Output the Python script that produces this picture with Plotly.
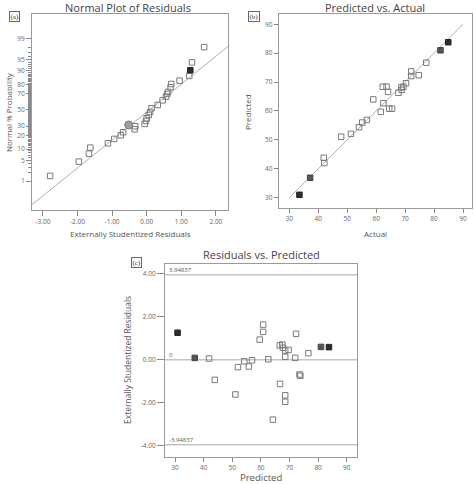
import plotly.graph_objects as go
from statistics import NormalDist

W, H = 474, 484
_nd = NormalDist()


def zq(pcts):
    """Normal-probability axis scale: percent -> standard normal quantile."""
    return [_nd.inv_cdf(p / 100.0) for p in pcts]


# ---------------- (a) Normal plot of residuals ----------------
a_resid = [-2.79, -1.96, -1.67, -1.63, -1.12, -0.94, -0.75, -0.68, -0.35, -0.33,
           -0.06, -0.02, 0.00, 0.06, 0.10, 0.14, 0.32, 0.46, 0.56, 0.59,
           0.62, 0.69, 0.71, 0.95, 1.23, 1.31, 1.66]
a_prob = [1.55, 4.55, 7.66, 10.9, 13.8, 17.2, 20.4, 23.3, 26.4, 29.7,
          32.4, 36.0, 39.3, 43.5, 47.4, 52.2, 56.5, 62.4, 66.8, 69.9,
          72.2, 77.1, 80.2, 83.1, 86.7, 94.0, 98.0]
a_dark_resid = [1.26]
a_dark_prob = [90.3]
a_circle_resid = [-0.52]
a_circle_prob = [31.2]
a_line_resid = [-3.32, 2.35]
a_line_prob = [0.097, 98.1]
a_xticks = [-3, -2, -1, 0, 1, 2]
a_xticklabels = ["-3.00", "-2.00", "-1.00", "0.00", "1.00", "2.00"]
a_yticks_pct = [1, 5, 10, 20, 30, 50, 70, 80, 90, 95, 99]
a_minor_pct = [p for p in range(1, 100)]

# ---------------- (b) Predicted vs. Actual ----------------
b_actual = [77.3, 74.7, 72.1, 72.1, 70.3, 69.4, 68.7, 68.8, 67.7, 62.3, 63.6, 64.1,
            59.0, 62.5, 64.5, 65.5, 61.6, 56.8, 55.2, 54.1, 51.3, 47.9, 41.9, 42.1]
b_pred = [76.7, 72.4, 73.7, 72.1, 69.6, 68.4, 68.2, 67.3, 66.3, 68.4, 68.4, 66.6,
          64.0, 62.7, 60.8, 60.8, 59.7, 56.9, 56.0, 54.4, 52.1, 51.1, 43.8, 42.0]
b_dark_actual = [84.9, 33.5]
b_dark_pred = [83.8, 31.0]
b_mid_actual = [82.2, 37.2]
b_mid_pred = [81.0, 36.9]
b_line = [30, 90]
b_ticks = [30, 40, 50, 60, 70, 80, 90]

# ---------------- (c) Residuals vs. Predicted ----------------
c_pred = [41.9, 43.9, 51.1, 52.0, 54.2, 55.8, 56.9, 59.6, 60.8, 60.8, 62.6, 64.2, 66.7,
          66.6, 67.5, 67.7, 68.5, 69.7, 68.5, 68.5, 68.5, 72.0, 72.3, 73.5, 73.8, 76.6]
c_resid = [0.06, -0.93, -1.61, -0.34, -0.07, -0.31, -0.02, 0.94, 1.30, 1.64, 0.03, -2.78, -1.12,
           0.67, 0.71, 0.56, 0.43, 0.46, 0.14, -1.65, -1.95, 0.09, 1.21, -0.68, -0.74, 0.31]
c_dark_pred = [30.9, 83.8]
c_dark_resid = [1.26, 0.59]
c_mid_pred = [36.9, 81.0]
c_mid_resid = [0.09, 0.60]
c_limit = 3.94837
c_xticks = [30, 40, 50, 60, 70, 80, 90]
c_yticks = [-4, -2, 0, 2, 4]
c_yticklabels = ["-4.00", "-2.00", "0.00", "2.00", "4.00"]

# ---------------- styling ----------------
FONT = "Open Sans"
TXT = "#555555"
FRAME = "#9a9a9a"
OPEN = dict(symbol="square-open", size=5.5, color="#7a7a7a", line=dict(width=1, color="#7a7a7a"))
DARK = dict(symbol="square", size=5.5, color="#2e2e2e", line=dict(width=1, color="#222222"))
MID = dict(symbol="square", size=5.5, color="#555555", line=dict(width=1, color="#444444"))
LINE = dict(color="#b0b0b0", width=1)


def px(x):
    return x / W


def py(y):
    return 1 - y / H


fig = go.Figure()

# (a)
fig.add_trace(go.Scatter(x=a_line_resid, y=zq(a_line_prob), mode="lines", line=LINE,
                         xaxis="x", yaxis="y", hoverinfo="skip"))
fig.add_trace(go.Scatter(x=a_resid, y=zq(a_prob), mode="markers", marker=OPEN, xaxis="x", yaxis="y"))
fig.add_trace(go.Scatter(x=a_dark_resid, y=zq(a_dark_prob), mode="markers", marker=DARK, xaxis="x", yaxis="y"))
fig.add_trace(go.Scatter(x=a_circle_resid, y=zq(a_circle_prob), mode="markers",
                         marker=dict(symbol="circle", size=8, color="#a0a0a0",
                                     line=dict(width=1, color="#7a7a7a")),
                         xaxis="x", yaxis="y"))

# (b)
fig.add_trace(go.Scatter(x=b_line, y=b_line, mode="lines", line=LINE, xaxis="x2", yaxis="y2"))
fig.add_trace(go.Scatter(x=b_actual, y=b_pred, mode="markers", marker=OPEN, xaxis="x2", yaxis="y2"))
fig.add_trace(go.Scatter(x=b_mid_actual, y=b_mid_pred, mode="markers", marker=MID, xaxis="x2", yaxis="y2"))
fig.add_trace(go.Scatter(x=b_dark_actual, y=b_dark_pred, mode="markers", marker=DARK, xaxis="x2", yaxis="y2"))

# (c)
c_range_x = [26.5, 93.7]
for yv in [c_limit, 0, -c_limit]:
    fig.add_trace(go.Scatter(x=c_range_x, y=[yv, yv], mode="lines",
                             line=dict(color="#a8a8a8", width=1), xaxis="x3", yaxis="y3"))
fig.add_trace(go.Scatter(x=c_pred, y=c_resid, mode="markers", marker=OPEN, xaxis="x3", yaxis="y3"))
fig.add_trace(go.Scatter(x=c_mid_pred, y=c_mid_resid, mode="markers", marker=MID, xaxis="x3", yaxis="y3"))
fig.add_trace(go.Scatter(x=c_dark_pred, y=c_dark_resid, mode="markers", marker=DARK, xaxis="x3", yaxis="y3"))

tickfont = dict(family=FONT, size=6.5, color="#666666")
axis_common = dict(showline=True, linecolor=FRAME, linewidth=1, mirror=True, showgrid=False,
                   zeroline=False, ticks="outside", tickcolor="#888888", tickwidth=1,
                   tickfont=tickfont, fixedrange=True)

fig.update_layout(
    width=W, height=H, autosize=False,
    margin=dict(l=0, r=0, t=0, b=0),
    paper_bgcolor="white", plot_bgcolor="white",
    showlegend=False,
    xaxis=dict(domain=[px(32), px(228)], anchor="y", range=[-3.315, 2.35],
               tickvals=a_xticks, ticktext=a_xticklabels, ticklen=5, **axis_common),
    yaxis=dict(domain=[py(210), py(14)], anchor="x", range=[-3.27, 3.137],
               tickvals=zq(a_yticks_pct), ticktext=[str(p) for p in a_yticks_pct], ticklen=5,
               minor=dict(tickmode="array", tickvals=zq(a_minor_pct), ticks="outside",
                          ticklen=3, tickcolor="#8a8a8a", tickwidth=1),
               **axis_common),
    xaxis2=dict(domain=[px(278.7), px(472)], anchor="y2", range=[26.34, 93.1],
                tickvals=b_ticks, ticktext=[str(t) for t in b_ticks], ticklen=4, **axis_common),
    yaxis2=dict(domain=[py(208.3), py(14)], anchor="x2", range=[26.33, 93.56],
                tickvals=b_ticks, ticktext=[str(t) for t in b_ticks], ticklen=4, **axis_common),
    xaxis3=dict(domain=[px(165), px(357.3)], anchor="y3", range=c_range_x,
                tickvals=c_xticks, ticktext=[str(t) for t in c_xticks], ticklen=4, **axis_common),
    yaxis3=dict(domain=[py(457.3), py(264.3)], anchor="x3", range=[-4.53, 4.44],
                tickvals=c_yticks, ticktext=c_yticklabels, ticklen=7, **axis_common),
)

ann = []


def text(x, y, s, size, color=TXT, angle=0, xanchor="center", family=FONT):
    ann.append(dict(x=px(x), y=py(y), xref="paper", yref="paper", text=s, showarrow=False,
                    xanchor=xanchor, yanchor="middle", textangle=angle,
                    font=dict(family=family, size=size, color=color)))


# titles
text(128, 7, "Normal Plot of Residuals", 11, color="#444444")
text(375, 7, "Predicted vs. Actual", 11, color="#444444")
text(261, 255, "Residuals vs. Predicted", 11, color="#444444")
# axis titles
text(130, 233, "Externally Studentized Residuals", 8)
text(8, 112, "Normal % Probability", 8, angle=-90)
text(375, 233, "Actual", 8)
text(247, 112, "Predicted", 8, angle=-90)
text(261, 477, "Predicted", 9.5)
text(127, 360, "Externally Studentized Residuals", 8.5, angle=-90)
# limit labels in (c)
text(167, 270, "3.94837", 6, xanchor="left")
text(167, 355, "0", 6, xanchor="left")
text(167, 440, "-3.94837", 6, xanchor="left")
# panel tags
for lab, cx, cy in [("(a)", 14.3, 16.5), ("(b)", 254.2, 16.3), ("(c)", 136.7, 262.2)]:
    ann.append(dict(x=px(cx), y=py(cy), xref="paper", yref="paper", text=lab, showarrow=False,
                    xanchor="center", yanchor="middle",
                    font=dict(family="Liberation Serif", size=7, color="#333333"),
                    bordercolor="#666666", borderwidth=1, borderpad=0.5, bgcolor="white"))

fig.update_layout(annotations=ann)
fig.write_html(
    "out.html",
    config={"displayModeBar": False},
    post_script="document.body.style.margin='0';document.body.style.overflow='hidden';",
)
